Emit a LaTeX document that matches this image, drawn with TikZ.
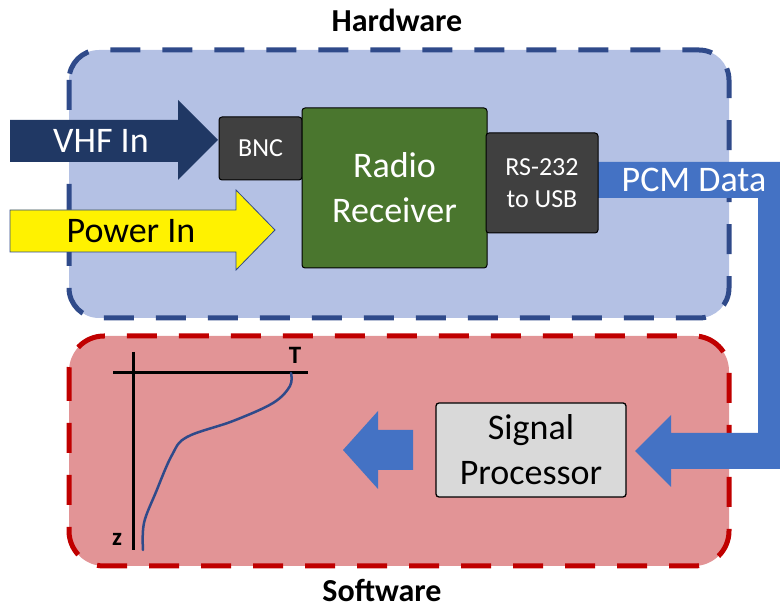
\documentclass[tikz,border=0pt]{standalone}
\usepackage{fontspec}
\setmainfont{Carlito}
\definecolor{hwfill}{HTML}{B4C1E4}
\definecolor{hwline}{HTML}{2F4A8A}
\definecolor{swfill}{HTML}{E29496}
\definecolor{swline}{HTML}{C00000}
\definecolor{navy}{HTML}{203864}
\definecolor{pcmblue}{HTML}{4472C4}
\definecolor{darkbox}{HTML}{404040}
\definecolor{rgreen}{HTML}{4A762E}
\definecolor{procgrey}{HTML}{D9D9D9}
\definecolor{curveblue}{HTML}{2F4A8A}
\begin{document}
\begin{tikzpicture}[x=1pt,y=-1pt,
  region/.style={line width=5pt, dash pattern=on 30pt off 22pt},
  bigtxt/.style={font=\fontsize{36}{45}\selectfont, inner sep=0pt, align=center},
  block/.style={draw=black, line width=1pt, rounded corners=3pt, inner sep=0pt, outer sep=0pt, align=center},
  title/.style={font=\fontsize{32}{36}\selectfont\bfseries, inner sep=0pt},
  axis/.style={line width=3pt, black},
  axlabel/.style={font=\fontsize{25}{28}\selectfont\bfseries, inner sep=0pt}
]
\useasboundingbox (0,0) rectangle (780,609);
\clip (0,0) rectangle (780,609);

% regions
\draw[region, draw=hwline, fill=hwfill, rounded corners=30pt] (69,50) rectangle (729,318);
\draw[region, draw=swline, fill=swfill, rounded corners=35pt] (69,336) rectangle (729,566);

\node[title] (hw) at (397,20) {Hardware};
\node[title] (sw) at (382,591) {Software};

% VHF In arrow
\fill[navy] (10,120) -- (178,120) -- (178,100) -- (218,140) -- (178,180) -- (178,162) -- (10,162) -- cycle;
\node[bigtxt, text=white] (vhf) at (101,141) {VHF In};

% Power In arrow
\filldraw[fill=yellow, draw=hwline, line width=0.8pt] (10,210) -- (236,210) -- (236,190) -- (275,230) -- (236,270) -- (236,252) -- (10,252) -- cycle;
\node[bigtxt, text=black] (pwr) at (131,231) {Power In};

% PCM data band
\fill[pcmblue] (590,162) -- (800,162) -- (800,469) -- (671,469) -- (671,487) -- (635,451) -- (671,415) -- (671,433) -- (758,433) -- (758,198) -- (590,198) -- cycle;
\node[bigtxt, text=white] (pcm) at (694,180) {PCM Data};

% blocks
\node[block, fill=darkbox, text=white, minimum width=83pt, minimum height=63pt, font=\fontsize{26}{32}\selectfont] (bnc) at (260.5,148.5) {BNC};
\node[block, fill=rgreen, text=white, minimum width=185pt, minimum height=160pt, font=\fontsize{36}{45}\selectfont] (rx) at (394.5,188) {Radio\\Receiver};
\node[block, fill=darkbox, text=white, minimum width=112pt, minimum height=100pt, font=\fontsize{26}{32}\selectfont] (rs) at (542,183) {RS-232\\to USB};
\node[block, fill=procgrey, text=black, line width=1.3pt, minimum width=190pt, minimum height=94pt, font=\fontsize{36}{45}\selectfont] (sp) at (531,450) {Signal\\Processor};

% output arrow
\fill[pcmblue] (343,450) -- (378,411) -- (378,430) -- (413,430) -- (413,470) -- (378,470) -- (378,489) -- cycle;

% profile graph
\draw[axis] (133,352) -- (133,550);
\draw[axis] (113,373) -- (308,373);
\node[axlabel] (T) at (295,355) {T};
\node[axlabel] (z) at (117,539) {z};
\draw[curveblue, line width=2.5pt, line cap=round] plot[smooth, tension=0.6] coordinates {(291,373) (290,386) (273,403) (233,421) (187,437) (172,455) (156,492) (144,523) (143,550)};
\end{tikzpicture}
\end{document}
